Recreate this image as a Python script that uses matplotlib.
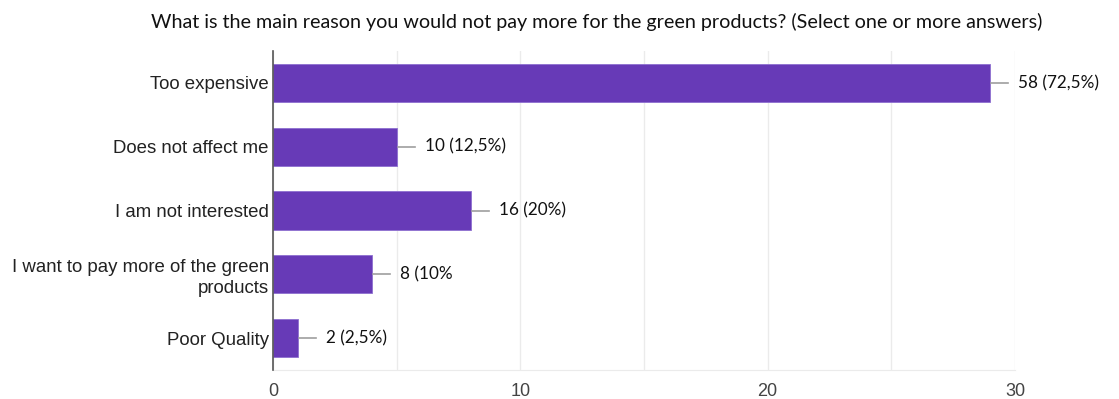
import matplotlib
matplotlib.use("Agg")
import matplotlib.pyplot as plt
import numpy as np

title = "What is the main reason you would not pay more for the green products? (Select one or more answers)"
categories = ["Too expensive", "Does not affect me", "I am not interested",
              "I want to pay more of the green\nproducts", "Poor Quality"]
bar_lengths = [29, 5, 8, 4, 1]
value_labels = ["58 (72,5%)", "10 (12,5%)", "16 (20%)", "8 (10%", "2 (2,5%)"]
x_ticks = [0, 10, 20, 30]

fig = plt.figure(figsize=(11.19, 3.99), dpi=100)
ax = fig.add_axes([273/1119, 29/399, 742/1119, 319/399])

y = np.arange(len(categories))
ax.barh(y, bar_lengths, height=0.6, color="#673ab7", edgecolor="#8e6fd0", linewidth=0.6, zorder=3)
ax.set_ylim(len(categories) - 0.5, -0.5)
ax.set_xlim(0, 30)

ax.set_xticks(np.arange(0, 31, 5), minor=False)
ax.set_xticklabels([str(t) if t in x_ticks else "" for t in np.arange(0, 31, 5)],
                   fontsize=13, color="#444444", family="Liberation Sans")
ax.xaxis.grid(True, color="#ebebeb", linewidth=1, zorder=0)
ax.tick_params(axis="both", length=0)
ax.tick_params(axis="x", pad=9)
ax.set_yticks(y)
ax.set_yticklabels(categories, fontsize=13.4, color="#222222", family="Liberation Sans",
                   linespacing=1.3)
ax.tick_params(axis="y", pad=3)

for s in ["top", "right"]:
    ax.spines[s].set_visible(False)
ax.spines["bottom"].set_color("#ebebeb")
ax.spines["left"].set_color("#555555")
ax.spines["left"].set_linewidth(1.2)
ax.spines["left"].set_zorder(4)

unit = 742 / 30.0  # pixels per unit
for yi, v, lab in zip(y, bar_lengths, value_labels):
    ax.plot([v + 1/unit, v + 18/unit], [yi, yi], color="#9e9e9e", linewidth=1.2, zorder=4)
    ax.text(v + 28/unit, yi, lab, va="center", ha="left", fontsize=12.3,
            family="Lato", color="#111111", zorder=5)

fig.text(597/1119, 1 - 22/399, title, ha="center", va="center", fontsize=14.2,
         family="Lato", color="#111111")

fig.savefig("out.png", dpi=100, facecolor="white")
